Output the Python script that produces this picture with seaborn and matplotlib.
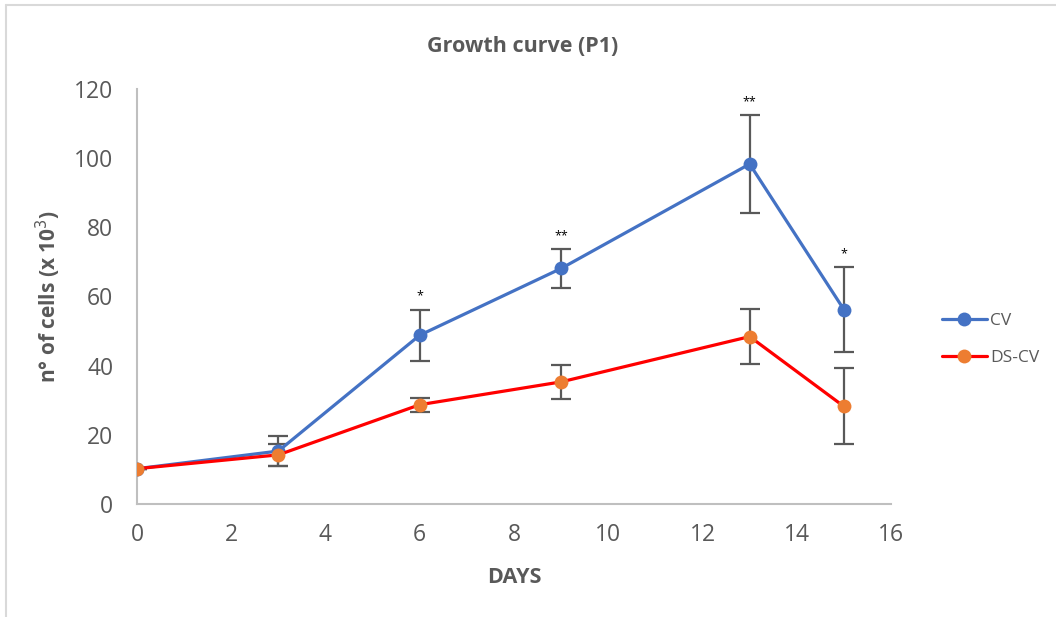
import numpy as np
import pandas as pd
import seaborn as sns
import matplotlib.pyplot as plt
from matplotlib.lines import Line2D

# values
days = [0, 3, 6, 9, 13, 15]
cv = [10.2, 15.3, 48.8, 68.1, 98.3, 56.2]
cv_err = [0, 4.3, 7.4, 5.7, 14.2, 12.4]
ds_cv = [10.2, 14.2, 28.7, 35.3, 48.4, 28.2]
ds_cv_err = [0, 3.2, 2.0, 5.0, 8.0, 11.0]
stars = ['', '', '*', '**', '**', '*']

grey = '#595959'
blue = '#4472C4'
red = '#FF0000'
orange = '#ED7D31'

sns.set_style('white')
plt.rcParams['font.family'] = ['Open Sans', 'DejaVu Sans']

df = pd.DataFrame({
    'day': days * 2,
    'cells': cv + ds_cv,
    'group': ['CV'] * len(days) + ['DS-CV'] * len(days),
})

fig = plt.figure(figsize=(10.56, 6.17), dpi=100)
ax = fig.add_axes([0.1297, 0.1832, 0.7141, 0.6726])

# error bars first, lines drawn over them
ax.errorbar(days, cv, yerr=cv_err, fmt='none', ecolor=grey, elinewidth=1.6,
            capsize=7, capthick=1.6, zorder=2)
ax.errorbar(days, ds_cv, yerr=ds_cv_err, fmt='none', ecolor=grey, elinewidth=1.6,
            capsize=7, capthick=1.6, zorder=2)

sns.lineplot(data=df[df.group == 'CV'], x='day', y='cells', color=blue,
             linewidth=2.3, marker='o', markersize=10, markeredgewidth=0,
             markerfacecolor=blue, ax=ax, zorder=3, legend=False)
sns.lineplot(data=df[df.group == 'DS-CV'], x='day', y='cells', color=red,
             linewidth=2.3, marker='o', markersize=10, markeredgewidth=0,
             markerfacecolor=orange, ax=ax, zorder=4, legend=False)

# significance stars above the CV error bars
for d, v, e, s in zip(days, cv, cv_err, stars):
    if s:
        ax.text(d, v + e + 2.0, s, ha='center', va='bottom', fontsize=9,
                color='black')

ax.set_xlim(0, 16)
ax.set_ylim(0, 120)
ax.set_xticks(range(0, 17, 2))
ax.set_yticks(range(0, 121, 20))
ax.tick_params(axis='both', labelsize=16.5, labelcolor=grey, length=0)
ax.tick_params(axis='y', pad=17)
ax.tick_params(axis='x', pad=14)

for side in ['top', 'right']:
    ax.spines[side].set_visible(False)
for side in ['left', 'bottom']:
    ax.spines[side].set_color('#BFBFBF')
    ax.spines[side].set_linewidth(1.5)

ax.set_xlabel('DAYS', fontsize=15.5, fontweight='bold', color=grey, labelpad=14)
ax.set_ylabel('n° of cells (x 10$^3$)', fontsize=15, fontweight='bold',
              color=grey, labelpad=8)
fig.text(0.4945, 0.925, 'Growth curve (P1)', ha='center', va='center',
         fontsize=15.5, fontweight='bold', color=grey)

handles = [
    Line2D([], [], color=blue, linewidth=2.3, marker='o', markersize=10,
           markerfacecolor=blue, markeredgewidth=0),
    Line2D([], [], color=red, linewidth=2.3, marker='o', markersize=10,
           markerfacecolor=orange, markeredgewidth=0),
]
fig.legend(handles, ['CV', 'DS-CV'], loc='center left',
           bbox_to_anchor=(0.877, 0.45), frameon=False, fontsize=12.5,
           labelcolor=grey, handlelength=2.6, handletextpad=0.2,
           labelspacing=1.2)

# thin outer frame seen on the left and top of the reference
fig.add_artist(Line2D([0.006, 0.006], [0, 0.992], transform=fig.transFigure,
                      color='#D9D9D9', linewidth=1.5))
fig.add_artist(Line2D([0.006, 1], [0.992, 0.992], transform=fig.transFigure,
                      color='#D9D9D9', linewidth=1.5))

fig.savefig('out.png', dpi=100)
